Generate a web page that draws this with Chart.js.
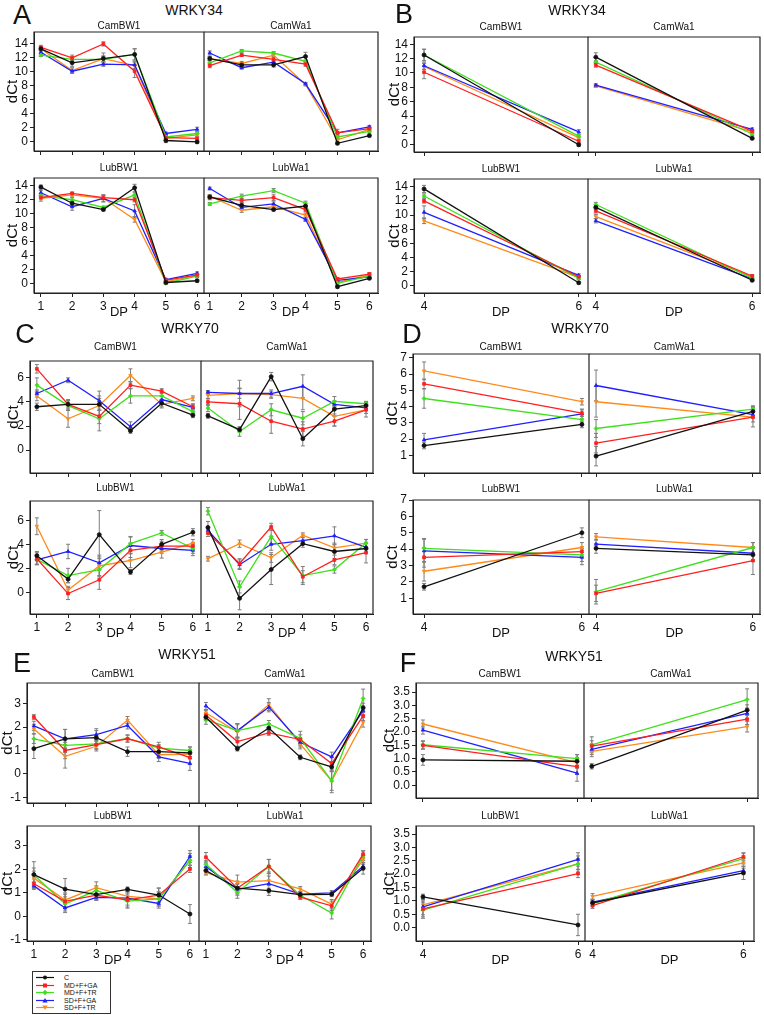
<!DOCTYPE html>
<html>
<head>
<meta charset="utf-8">
<script src="https://cdn.jsdelivr.net/npm/chart.js@4.4.0/dist/chart.umd.min.js"></script>
<style>
  body { margin: 0; background: #fff; }
  #fig { position: relative; width: 764px; height: 1015px; overflow: hidden; font-family: 'Liberation Sans', Arial, sans-serif; color: #111; }
  .txt { position: absolute; transform: translate(-50%, -50%); white-space: nowrap; line-height: 1; }
  canvas { position: absolute; }
  #legend { position: absolute; left: 32px; top: 971px; width: 77px; height: 41px; border: 1px solid #333; font-size: 7px; }
  #legend .row { position: absolute; left: 3px; height: 7px; display: flex; align-items: center; }
  #legend .row span { margin-left: 10px; }
</style>
</head>
<body>
<div id="fig"><div id="legend"></div></div>
<script>
const SERIES = ['C', 'MD+F+GA', 'MD+F+TR', 'SD+F+GA', 'SD+F+TR'];
const COLORS = ['#111111', '#ff1f1f', '#3ee01c', '#1f1fff', '#ff8a1a'];
const MARKERS = ['circle', 'rect', 'rectRot', 'triangle', 'triangle'];
const MARKER_ROT = [0, 0, 0, 0, 180];
const DP = [1, 2, 3, 4, 5, 6];
const ALL_IDX = [0, 1, 2, 3, 4, 5];
const LATE_IDX = [3, 5]; // DP 4 and DP 6, panels B, D, F

const TICKS_W34 = [0, 2, 4, 6, 8, 10, 12, 14];
const TICKS_W70_ALL = [0, 2, 4, 6];
const TICKS_W70_LATE = [1, 2, 3, 4, 5, 6, 7];
const TICKS_W51_ALL = [-1, 0, 1, 2, 3];
const TICKS_W51_LATE = [0, 0.5, 1, 1.5, 2, 2.5, 3, 3.5];

// rows follow SERIES, columns follow DP 1..6
const w34CamBW1 = [
  [13.3, 11.3, 11.9, 12.5, 0.2, 0.0],
  [13.5, 12.0, 14.0, 10.1, 0.6, 0.5],
  [12.4, 11.8, 11.8, 12.5, 0.7, 1.2],
  [12.8, 10.1, 11.1, 11.0, 1.2, 1.8],
  [13.3, 10.2, 11.9, 10.9, 0.5, 1.0]
];
const w34CamBW1Err = [
  [0.3, 0.5, 0.4, 0.8, 0.3, 0.2],
  [0.3, 0.4, 0.3, 0.9, 0.3, 0.2],
  [0.2, 0.3, 0.4, 0.8, 0.2, 0.2],
  [0.3, 0.3, 0.3, 0.5, 0.2, 0.3],
  [0.3, 0.4, 0.8, 0.4, 0.2, 0.2]
];
const w34CamWa1 = [
  [11.9, 11.0, 11.0, 12.2, -0.2, 0.9],
  [10.9, 12.4, 11.8, 11.1, 1.3, 1.9],
  [11.3, 13.0, 12.7, 11.5, 0.7, 1.5],
  [12.7, 10.6, 11.4, 8.3, 1.3, 2.15],
  [11.9, 11.2, 12.4, 8.2, 0.3, 1.8]
];
const w34CamWa1Err = [
  [0.3, 0.3, 0.3, 0.6, 0.2, 0.2],
  [0.3, 0.2, 0.3, 0.3, 0.2, 0.2],
  [0.3, 0.2, 0.2, 0.2, 0.2, 0.2],
  [0.3, 0.2, 0.2, 0.2, 0.5, 0.2],
  [0.3, 0.3, 0.2, 0.2, 0.2, 0.2]
];
const w34LubBW1 = [
  [13.8, 11.5, 10.6, 13.7, 0.2, 0.45],
  [12.3, 12.9, 12.3, 12.0, 0.5, 1.3],
  [12.6, 12.0, 10.9, 12.7, 0.1, 1.1],
  [13.0, 11.0, 12.2, 10.4, 0.6, 1.5],
  [12.2, 12.7, 12.2, 9.2, 0.3, 1.2]
];
const w34LubBW1Err = [
  [0.3, 0.3, 0.2, 0.5, 0.2, 0.2],
  [0.2, 0.2, 0.3, 0.3, 0.2, 0.2],
  [0.3, 0.3, 0.2, 0.3, 0.2, 0.2],
  [0.3, 0.5, 0.5, 0.9, 0.2, 0.2],
  [0.4, 0.3, 0.5, 0.4, 0.2, 0.2]
];
const w34LubWa1 = [
  [12.4, 11.2, 10.6, 11.1, -0.4, 0.8],
  [12.3, 11.9, 12.3, 10.6, 0.7, 1.4],
  [11.4, 12.5, 13.3, 11.5, 0.1, 1.1],
  [13.6, 10.9, 11.4, 9.2, 0.5, 1.0],
  [12.5, 10.5, 11.0, 9.8, 0.2, 1.3]
];
const w34LubWa1Err = [
  [0.3, 0.3, 0.2, 0.3, 0.2, 0.2],
  [0.3, 0.3, 0.4, 0.3, 0.2, 0.2],
  [0.2, 0.3, 0.3, 0.3, 0.2, 0.2],
  [0.2, 0.3, 0.3, 0.3, 0.3, 0.2],
  [0.2, 0.3, 0.3, 0.3, 0.5, 0.2]
];

const w70CamBW1 = [
  [3.6, 3.8, 3.8, 1.6, 3.9, 2.9],
  [6.75, 3.8, 2.8, 5.4, 4.9, 3.6],
  [5.4, 3.7, 2.6, 4.5, 4.5, 3.2],
  [4.7, 5.8, 4.1, 1.95, 4.2, 3.55],
  [4.5, 2.6, 3.7, 6.2, 3.8, 4.3]
];
const w70CamBW1Err = [
  [0.3, 0.4, 0.5, 0.2, 0.3, 0.2],
  [0.35, 0.3, 0.6, 0.3, 0.2, 0.2],
  [0.6, 0.4, 1.0, 0.6, 0.3, 0.2],
  [0.3, 0.2, 0.8, 0.4, 0.3, 0.3],
  [0.4, 0.7, 0.8, 0.55, 0.3, 0.2]
];
const w70CamWa1 = [
  [2.85, 1.7, 6.1, 0.95, 3.4, 3.7],
  [4.0, 3.85, 2.4, 1.75, 2.4, 3.35],
  [3.5, 1.55, 3.35, 2.65, 4.05, 3.85],
  [4.8, 4.7, 4.7, 5.3, 3.8, 3.5],
  [4.55, 4.7, 4.6, 4.3, 2.8, 3.35]
];
const w70CamWa1Err = [
  [0.2, 0.2, 0.35, 0.6, 0.4, 0.3],
  [0.3, 1.3, 1.0, 0.6, 0.4, 0.3],
  [0.3, 0.4, 0.5, 0.55, 0.4, 0.2],
  [0.15, 0.4, 0.3, 0.95, 0.3, 0.2],
  [0.3, 1.1, 0.3, 0.95, 0.8, 0.6]
];
const w70LubBW1 = [
  [3.05, 1.1, 4.8, 1.7, 4.0, 5.0],
  [2.8, -0.1, 1.05, 3.5, 3.85, 3.85],
  [2.75, 1.4, 1.9, 4.05, 4.95, 3.65],
  [2.7, 3.4, 2.45, 3.9, 3.65, 3.5],
  [5.5, 0.2, 2.2, 2.65, 3.35, 4.1]
];
const w70LubBW1Err = [
  [0.35, 0.3, 2.0, 0.2, 0.4, 0.3],
  [0.5, 0.5, 0.8, 0.6, 0.4, 0.3],
  [0.4, 0.6, 0.5, 0.6, 0.2, 0.4],
  [0.4, 0.6, 0.5, 0.7, 0.4, 0.45],
  [0.7, 0.3, 0.9, 0.6, 0.5, 0.3]
];
const w70LubWa1 = [
  [5.4, -0.5, 1.9, 4.05, 3.4, 3.65],
  [4.95, 2.4, 5.45, 1.3, 2.7, 3.3],
  [6.75, 0.45, 4.65, 1.4, 1.9, 4.1],
  [5.15, 2.3, 4.0, 4.3, 4.7, 3.75],
  [2.8, 4.05, 2.9, 4.75, 3.7, 4.1]
];
const w70LubWa1Err = [
  [0.5, 0.95, 1.25, 0.3, 0.6, 0.4],
  [0.3, 0.4, 0.3, 0.5, 0.4, 0.85],
  [0.3, 0.5, 0.6, 0.75, 0.3, 0.3],
  [0.3, 0.4, 0.5, 0.3, 0.75, 0.4],
  [0.2, 0.3, 0.4, 0.2, 0.4, 0.3]
];

const w51CamBW1 = [
  [1.08, 1.5, 1.55, 0.95, 0.95, 0.9],
  [2.43, 1.0, 1.25, 1.5, 1.15, 0.7],
  [1.5, 1.22, 1.28, 1.52, 1.1, 1.0],
  [2.05, 1.5, 1.68, 2.07, 0.73, 0.45],
  [1.92, 0.75, 1.18, 2.3, 0.82, 0.85]
];
const w51CamBW1Err = [
  [0.42, 0.4, 0.3, 0.2, 0.2, 0.25],
  [0.1, 0.35, 0.2, 0.15, 0.2, 0.3],
  [0.2, 0.3, 0.2, 0.15, 0.15, 0.15],
  [0.2, 0.4, 0.25, 0.15, 0.2, 0.3],
  [0.2, 0.5, 0.2, 0.15, 0.15, 0.2]
];
const w51CamWa1 = [
  [2.42, 1.08, 1.96, 0.71, 0.3, 2.82],
  [2.5, 1.38, 1.75, 1.47, 0.44, 2.48],
  [2.32, 1.85, 2.13, 1.52, -0.3, 3.22],
  [2.9, 1.85, 2.85, 1.35, 0.73, 2.7],
  [2.6, 1.8, 2.96, 1.27, -0.3, 2.2]
];
const w51CamWa1Err = [
  [0.15, 0.1, 0.2, 0.1, 0.2, 0.2],
  [0.2, 0.2, 0.1, 0.2, 0.3, 0.2],
  [0.2, 0.3, 0.15, 0.3, 0.4, 0.4],
  [0.15, 0.3, 0.2, 0.2, 0.2, 0.2],
  [0.15, 0.3, 0.25, 0.2, 0.5, 0.2]
];
const w51LubBW1 = [
  [1.78, 1.16, 0.93, 1.15, 0.91, 0.1],
  [1.39, 0.64, 0.9, 0.7, 0.9, 2.02],
  [1.76, 0.53, 1.1, 0.65, 0.74, 2.38],
  [1.3, 0.36, 0.81, 0.78, 0.55, 2.55],
  [1.63, 0.7, 1.22, 0.85, 0.74, 2.38]
];
const w51LubBW1Err = [
  [0.55, 0.45, 0.25, 0.1, 0.3, 0.4],
  [0.2, 0.3, 0.2, 0.3, 0.3, 0.15],
  [0.3, 0.3, 0.2, 0.3, 0.3, 0.3],
  [0.15, 0.2, 0.1, 0.3, 0.2, 0.25],
  [0.3, 0.3, 0.25, 0.2, 0.3, 0.2]
];
const w51LubWa1 = [
  [1.95, 1.2, 1.1, 0.93, 0.94, 2.05],
  [2.52, 1.2, 2.13, 0.82, 0.45, 2.65],
  [2.22, 1.02, 2.12, 0.9, 0.14, 2.58],
  [2.12, 1.15, 1.39, 0.95, 1.0, 2.13],
  [1.86, 1.46, 1.52, 1.17, 0.52, 2.42]
];
const w51LubWa1Err = [
  [0.15, 0.3, 0.1, 0.1, 0.1, 0.25],
  [0.2, 0.2, 0.3, 0.1, 0.2, 0.15],
  [0.15, 0.25, 0.3, 0.1, 0.25, 0.2],
  [0.15, 0.2, 0.5, 0.1, 0.1, 0.15],
  [0.1, 0.3, 0.2, 0.1, 0.2, 0.2]
];

const CELLS = [['CamBW1', 'CamWa1'], ['LubBW1', 'LubWa1']];
const W34 = [[[w34CamBW1, w34CamBW1Err], [w34CamWa1, w34CamWa1Err]], [[w34LubBW1, w34LubBW1Err], [w34LubWa1, w34LubWa1Err]]];
const W70 = [[[w70CamBW1, w70CamBW1Err], [w70CamWa1, w70CamWa1Err]], [[w70LubBW1, w70LubBW1Err], [w70LubWa1, w70LubWa1Err]]];
const W51 = [[[w51CamBW1, w51CamBW1Err], [w51CamWa1, w51CamWa1Err]], [[w51LubBW1, w51LubBW1Err], [w51LubWa1, w51LubWa1Err]]];

const FONT = "'Liberation Sans', Arial, sans-serif";
const fig = document.getElementById('fig');

const intFmt = v => String(v);
const oneDec = v => v.toFixed(1);

// page layout of the six panels (pixels)
const panels = [
  { letter: 'A', at: [22, 15], gene: 'WRKY34', geneAt: [194, 10], data: W34, idx: ALL_IDX, ticks: TICKS_W34, fmt: intFmt,
    cl: 0, x0: 34, xd: 204, x1: 378, xL: [0.78, 6.22], xR: [0.82, 6.27], dct: 13,
    rows: [{ y0: 32, y1: 151, yr: [-1.3, 15.7], ty: 26 }, { y0: 178, y1: 293, yr: [-1.3, 15.1], ty: 168 }] },
  { letter: 'B', at: [404, 14], gene: 'WRKY34', geneAt: [577, 10], data: W34, idx: LATE_IDX, ticks: TICKS_W34, fmt: intFmt,
    cl: 380, x0: 414, xd: 588, x1: 760, xL: [3.87, 6.12], xR: [3.9, 6.1], dct: 395,
    rows: [{ y0: 37, y1: 152, yr: [-1.0, 15.0], ty: 27 }, { y0: 179, y1: 293, yr: [-1.0, 15.1], ty: 169 }] },
  { letter: 'C', at: [25, 334], gene: 'WRKY70', geneAt: [190, 328], data: W70, idx: ALL_IDX, ticks: TICKS_W70_ALL, fmt: intFmt,
    cl: 0, x0: 30, xd: 201, x1: 373, xL: [0.78, 6.26], xR: [0.78, 6.22], dct: 14,
    rows: [{ y0: 361, y1: 473, yr: [-1.9, 7.4], ty: 347 }, { y0: 501, y1: 614, yr: [-1.8, 7.6], ty: 488 }] },
  { letter: 'D', at: [412, 334], gene: 'WRKY70', geneAt: [580, 328], data: W70, idx: LATE_IDX, ticks: TICKS_W70_LATE, fmt: intFmt,
    cl: 380, x0: 413, xd: 589, x1: 760, xL: [3.86, 6.09], xR: [3.91, 6.09], dct: 393,
    rows: [{ y0: 354, y1: 473, yr: [-0.09, 7.24], ty: 347 }, { y0: 500, y1: 614, yr: [0.04, 7.0], ty: 489 }] },
  { letter: 'E', at: [22, 663], gene: 'WRKY51', geneAt: [187, 654], data: W51, idx: ALL_IDX, ticks: TICKS_W51_ALL, fmt: intFmt,
    cl: 0, x0: 27, xd: 199, x1: 371, xL: [0.78, 6.29], xR: [0.78, 6.25], dct: 8,
    rows: [{ y0: 683, y1: 803, yr: [-1.24, 3.88], ty: 674 }, { y0: 826, y1: 941, yr: [-1.05, 3.85], ty: 816 }] },
  { letter: 'F', at: [408, 663], gene: 'WRKY51', geneAt: [574, 656], data: W51, idx: LATE_IDX, ticks: TICKS_W51_LATE, fmt: oneDec,
    cl: 380, x0: 416, xd: 584, x1: 758, xL: [3.91, 6.09], xR: [3.9, 6.14], dct: 390,
    rows: [{ y0: 683, y1: 798, yr: [-0.48, 3.84], ty: 674 }, { y0: 826, y1: 941, yr: [-0.5, 3.8], ty: 816, xd: 585, x1: 754 }] }
];

function addText(text, cx, cy, size) {
  const d = document.createElement('div');
  d.className = 'txt';
  d.textContent = text;
  d.style.left = cx + 'px';
  d.style.top = cy + 'px';
  d.style.fontSize = size + 'px';
  fig.appendChild(d);
}

const errorBars = {
  id: 'errorBars',
  beforeDatasetsDraw(chart) {
    const { ctx, scales: { x, y } } = chart;
    ctx.save();
    ctx.strokeStyle = '#7d7d7d';
    ctx.lineWidth = 1;
    chart.data.datasets.forEach(ds => {
      ds.errors.forEach((e, i) => {
        const pt = ds.data[i];
        const px = x.getPixelForValue(pt.x);
        const lo = y.getPixelForValue(pt.y - e);
        const hi = y.getPixelForValue(pt.y + e);
        ctx.beginPath();
        ctx.moveTo(px, lo); ctx.lineTo(px, hi);
        ctx.moveTo(px - 2, lo); ctx.lineTo(px + 2, lo);
        ctx.moveTo(px - 2, hi); ctx.lineTo(px + 2, hi);
        ctx.stroke();
      });
    });
    ctx.restore();
  }
};

// box round the plot area; the right cell leaves its left side to the left cell
const frame = {
  id: 'frame',
  afterDraw(chart, args, opts) {
    const { ctx, chartArea: a } = chart;
    ctx.save();
    ctx.strokeStyle = '#222';
    ctx.lineWidth = 1.2;
    ctx.beginPath();
    if (opts.open) {
      ctx.moveTo(a.left, a.top); ctx.lineTo(a.right, a.top);
      ctx.lineTo(a.right, a.bottom); ctx.lineTo(a.left, a.bottom);
    } else {
      ctx.rect(a.left, a.top, a.right - a.left, a.bottom - a.top);
    }
    ctx.stroke();
    ctx.restore();
  }
};

function subplot(p, row, r, side) {
  const left = side === 0;
  const bottomRow = r === 1;
  const xd = row.xd ?? p.xd;
  const x0 = left ? p.x0 : xd;
  const x1 = left ? xd : (row.x1 ?? p.x1);
  const padT = 8, padS = 3;
  const axisH = bottomRow ? 26 : 8;
  const axisW = left ? x0 - p.cl : 0;
  const cLeft = left ? p.cl : x0 - padS;
  const cWidth = left ? x1 - p.cl + padS : x1 - x0 + 2 * padS;
  const cTop = row.y0 - padT;
  const cHeight = row.y1 - row.y0 + padT + axisH;

  const canvas = document.createElement('canvas');
  canvas.width = cWidth;
  canvas.height = cHeight;
  canvas.style.left = cLeft + 'px';
  canvas.style.top = cTop + 'px';
  canvas.style.width = cWidth + 'px';
  canvas.style.height = cHeight + 'px';
  fig.appendChild(canvas);

  const [vals, errs] = p.data[r][side];
  const xs = p.idx.map(i => DP[i]);
  const xr = left ? p.xL : p.xR;

  const datasets = SERIES.map((name, si) => ({
    label: name,
    data: p.idx.map(i => ({ x: DP[i], y: vals[si][i] })),
    errors: p.idx.map(i => errs[si][i]),
    borderColor: COLORS[si],
    backgroundColor: COLORS[si],
    borderWidth: 1.3,
    pointStyle: MARKERS[si],
    pointRotation: MARKER_ROT[si],
    pointRadius: 2,
    pointBorderWidth: 0.8,
    tension: 0
  }));

  new Chart(canvas, {
    type: 'line',
    data: { datasets },
    options: {
      responsive: false,
      animation: false,
      layout: { autoPadding: false, padding: { left: left ? 0 : padS, right: padS, top: padT, bottom: 0 } },
      plugins: { legend: { display: false }, tooltip: { enabled: false }, frame: { open: !left } },
      scales: {
        x: {
          type: 'linear',
          min: xr[0],
          max: xr[1],
          afterBuildTicks: s => { s.ticks = xs.map(v => ({ value: v })); },
          afterFit: s => { s.height = axisH; s.paddingLeft = 0; s.paddingRight = 0; },
          grid: { drawOnChartArea: false, tickLength: 4, tickColor: '#222' },
          border: { color: '#222', width: 1 },
          ticks: { display: bottomRow, autoSkip: false, maxRotation: 0, padding: 2, color: '#111',
                   font: { family: FONT, size: 12 }, callback: v => String(v) },
          title: { display: bottomRow, text: 'DP', color: '#111',
                   font: { family: FONT, size: 13, lineHeight: 1 }, padding: { top: 0, bottom: 0.5 } }
        },
        y: {
          type: 'linear',
          display: left,
          min: row.yr[0],
          max: row.yr[1],
          afterBuildTicks: s => { s.ticks = p.ticks.map(v => ({ value: v })); },
          afterFit: s => { s.width = axisW; s.paddingTop = 0; s.paddingBottom = 0; },
          grid: { drawOnChartArea: false, tickLength: 4, tickColor: '#222' },
          border: { color: '#222', width: 1 },
          ticks: { autoSkip: false, padding: 2, color: '#111', font: { family: FONT, size: 12 }, callback: p.fmt },
          title: { display: true, text: 'dCt', color: '#111',
                   font: { family: FONT, size: 15, lineHeight: 1 }, padding: { top: p.dct - p.cl - 7.5, bottom: 0 } }
        }
      }
    },
    plugins: [errorBars, frame]
  });

  addText(CELLS[r][side], (x0 + x1) / 2, row.ty, 10);
}

panels.forEach(p => {
  addText(p.letter, p.at[0], p.at[1], 27);
  addText(p.gene, p.geneAt[0], p.geneAt[1], 14);
  p.rows.forEach((row, r) => {
    subplot(p, row, r, 0);
    subplot(p, row, r, 1);
  });
});

// legend
function legendSymbol(i) {
  const c = COLORS[i];
  const shapes = [
    `<circle cx="9" cy="3.5" r="2" fill="${c}"/>`,
    `<rect x="7" y="1.5" width="4" height="4" fill="${c}"/>`,
    `<polygon points="9,0.8 11.7,3.5 9,6.2 6.3,3.5" fill="${c}"/>`,
    `<polygon points="9,1 11.6,5.6 6.4,5.6" fill="${c}"/>`,
    `<polygon points="6.4,1.4 11.6,1.4 9,6" fill="${c}"/>`
  ];
  return `<svg width="18" height="7" viewBox="0 0 18 7"><line x1="0" y1="3.5" x2="18" y2="3.5" stroke="${c}" stroke-width="1.2"/>${shapes[i]}</svg>`;
}
const legend = document.getElementById('legend');
SERIES.forEach((name, i) => {
  const rowEl = document.createElement('div');
  rowEl.className = 'row';
  rowEl.style.top = (2 + i * 7.6) + 'px';
  rowEl.innerHTML = legendSymbol(i) + `<span>${name}</span>`;
  legend.appendChild(rowEl);
});
</script>
</body>
</html>
